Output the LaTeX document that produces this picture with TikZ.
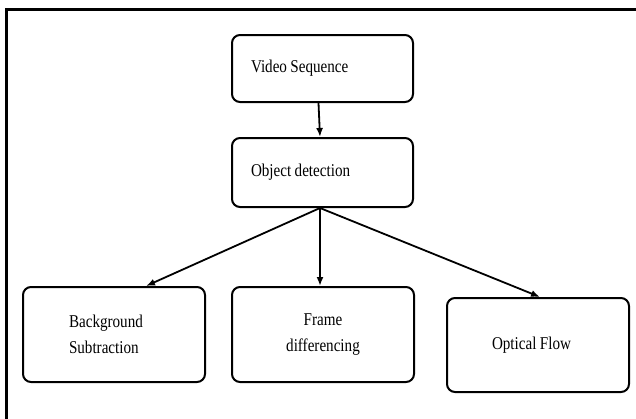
\documentclass[tikz,border=0pt]{standalone}
\usepackage{fontspec}
\setmainfont{Liberation Serif}[FakeStretch=0.84]
\usetikzlibrary{arrows.meta,calc}
\newcommand\mytightspace{\spaceskip=3.4pt\relax}
\begin{document}
\begin{tikzpicture}[x=1pt,y=1pt,
  box/.style={draw=black,line width=2pt,rounded corners=8pt,inner ysep=0pt,
    font=\fontsize{18}{26}\selectfont,execute at begin node=\mytightspace},
  arr/.style={line width=1.8pt,-{Latex[length=9pt,width=7pt]}}]
\useasboundingbox (0,0) rectangle (636,-418);
\clip (0,0) rectangle (636,-418);
\draw[line width=2.4pt] (6.5,-9.5) rectangle (660,-440);
\node[box,minimum width=181,minimum height=67,inner xsep=19pt,text width=143pt,align=left]
  (vs) at (322.5,-68.5) {Video Sequence};
\node[box,minimum width=181,minimum height=69,inner xsep=19pt,text width=143pt,align=left]
  (od) at (322.5,-172.5) {Object detection};
\node[box,minimum width=182,minimum height=95,inner xsep=46pt,text width=90pt,align=left]
  (bg) at (114,-334.5) {Background\\Subtraction};
\node[box,minimum width=182,minimum height=95,inner xsep=20pt,text width=142pt,align=center]
  (fd) at (323,-334.5) {Frame\\differencing};
\node[box,minimum width=182,minimum height=94,inner xsep=45pt,text width=92pt,align=left]
  (of) at (538,-345) {Optical Flow};
\coordinate (hub) at ($(od.south)+(-2.5,0)$);
\coordinate (bgt) at ($(bg.north west)+(124,0)$);
\coordinate (fdt) at ($(fd.north)+(-3,0)$);
\coordinate (oft) at ($(of.north west)+(94,0)$);
\draw[arr] ($(vs.south)+(-4,0)$) -- ($(od.north)+(-2.5,0)$);
\draw[arr] (hub) -- (bgt);
\draw[arr] (hub) -- (fdt);
\draw[arr] (hub) -- (oft);
\end{tikzpicture}
\end{document}
